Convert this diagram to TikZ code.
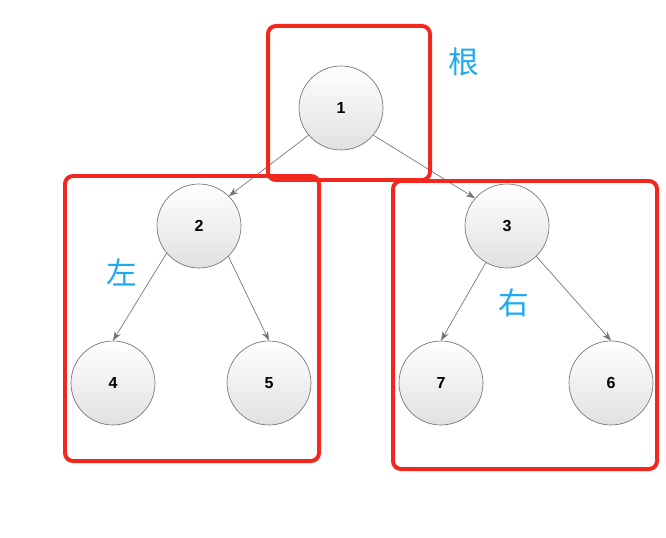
\documentclass[tikz,border=0pt]{standalone}
\usepackage{fontspec}
\setmainfont{Liberation Sans}
\newfontfamily\cjk{Noto Sans CJK SC}
\usetikzlibrary{arrows.meta}
\definecolor{lblue}{RGB}{30,170,240}
\definecolor{rbox}{RGB}{240,40,30}
\begin{document}
\begin{tikzpicture}[x=0.0264cm,y=-0.0264cm,
  nd/.style={circle,draw=black!55,line width=0.5pt,minimum size=84*0.0264cm,inner sep=0pt,top color=white,bottom color=black!12,font=\bfseries\fontsize{12}{14}\selectfont},
  ed/.style={draw=black!55,line width=0.5pt,-{Stealth[length=7pt,width=5pt]}},
  bx/.style={draw=rbox,line width=3pt,rounded corners=6pt},
  lb/.style={text=lblue,font=\cjk\fontsize{23}{27}\selectfont}]
\useasboundingbox (0,0) rectangle (666,538);
\node[nd] (n1) at (341,108) {1};
\node[nd] (n2) at (199,226) {2};
\node[nd] (n3) at (507,226) {3};
\node[nd] (n4) at (113,383) {4};
\node[nd] (n5) at (269,383) {5};
\node[nd] (n7) at (441,383) {7};
\node[nd] (n6) at (611,383) {6};
\draw[ed] (n1.220) -- (n2.45);
\draw[ed] (n1.320) -- (n3.139);
\draw[ed] (n2.220) -- (n4.north);
\draw[ed] (n2.314) -- (n5.north);
\draw[ed] (n3.240) -- (n7.north);
\draw[ed] (n3.314) -- (n6.north);
\draw[bx] (268,26) rectangle (430,180);
\draw[bx] (65,176) rectangle (319,461);
\draw[bx] (393,181) rectangle (657,469);
\node[lb] (lr) at (464,62) {根};
\node[lb] (ll) at (122,272) {左};
\node[lb] (lrr) at (514,303) {右};
\end{tikzpicture}
\end{document}
